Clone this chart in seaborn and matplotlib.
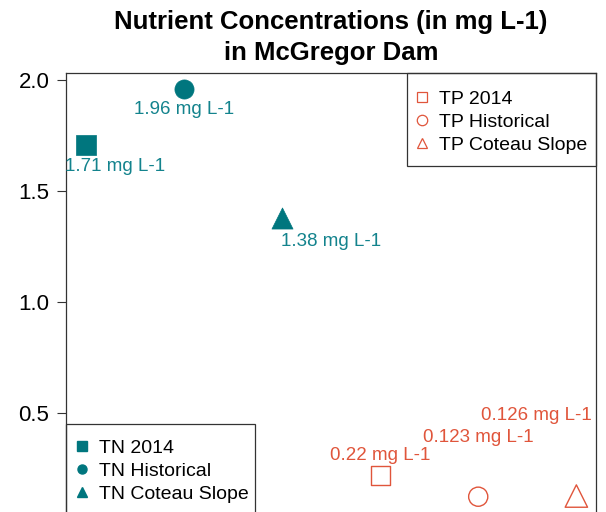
import matplotlib
matplotlib.use("Agg")
import matplotlib.pyplot as plt
import seaborn as sns
import pandas as pd
from matplotlib.lines import Line2D
from matplotlib.patches import Rectangle

# ---- data ----
tn_labels = ["TN 2014", "TN Historical", "TN Coteau Slope"]
tn_values = [1.71, 1.96, 1.38]
tp_labels = ["TP 2014", "TP Historical", "TP Coteau Slope"]
tp_values = [0.22, 0.123, 0.126]
y_ticks = [0.5, 1.0, 1.5, 2.0]

# ---- styles ----
TEAL = "#00767E"
TEAL_TXT = "#13838D"
RED = "#E0553B"
markers = ["s", "o", "^"]
tn_label_offsets = [(29, -22), (0, -20), (49, -24)]   # pixels
tp_label_offsets = [(0, 20), (0, 59), (-40, 81)]      # pixels

sns.set_theme(style="ticks")
plt.rcParams["font.family"] = ["Liberation Sans", "DejaVu Sans"]

df = pd.DataFrame({
    "x": list(range(1, 7)),
    "value": tn_values + tp_values,
    "name": tn_labels + tp_labels,
    "group": ["TN"] * 3 + ["TP"] * 3,
    "marker": markers * 2,
})

W, H = 606, 512
AX_L, AX_R, AX_T, AX_B = 66, 596, 73, 513
fig = plt.figure(figsize=(W / 100, H / 100), dpi=100)
ax = fig.add_axes([AX_L / W, (H - AX_B) / H, (AX_R - AX_L) / W, (AX_B - AX_T) / H])


def axx(px):
    return (px - AX_L) / (AX_R - AX_L)


def axy(py):
    return (AX_B - py) / (AX_B - AX_T)


for _, row in df.iterrows():
    sub = df[df["name"] == row["name"]]
    if row["group"] == "TN":
        sns.scatterplot(data=sub, x="x", y="value", marker=row["marker"],
                        color=TEAL, edgecolor=TEAL, s=190 if row["marker"] != "^" else 230,
                        linewidth=0.5, ax=ax, legend=False, zorder=3)
    else:
        sns.scatterplot(data=sub, x="x", y="value", marker=row["marker"],
                        facecolor="none", edgecolor=RED, s=190 if row["marker"] != "^" else 260,
                        linewidth=1.0, ax=ax, legend=False, zorder=3)

for i, (v, off) in enumerate(zip(tn_values, tn_label_offsets)):
    ax.annotate(f"{v} mg L-1", xy=(i + 1, v), xytext=off, textcoords="offset pixels",
                ha="center", va="center", color=TEAL_TXT, fontsize=13.5)
for i, (v, off) in enumerate(zip(tp_values, tp_label_offsets)):
    ax.annotate(f"{v} mg L-1", xy=(i + 4, v), xytext=off, textcoords="offset pixels",
                ha="center", va="center", color=RED, fontsize=13.5)

vals = tn_values + tp_values
lo, hi = min(vals), max(vals)
pad = (hi - lo) * 0.04
ax.set_ylim(lo - pad, hi + pad)
ax.set_xlim(0.8, 6.2)
ax.set_yticks(y_ticks)
ax.set_yticklabels([f"{t:.1f}" for t in y_ticks], fontsize=16, color="black")
ax.set_xticks([])
ax.set_xlabel("")
ax.set_ylabel("")
ax.tick_params(axis="y", length=6.5, width=0.8, color="#333333", pad=5.5)
for s in ax.spines.values():
    s.set_visible(True)
    s.set_color("#333333")
    s.set_linewidth(0.9)

fig.suptitle("Nutrient Concentrations (in mg L-1)\nin McGregor Dam",
             fontsize=18.5, fontweight="bold", y=1 - 10 / H, va="top",
             x=331 / W, linespacing=1.36, color="black")

tn_handles = [Line2D([], [], marker=m, linestyle="none", color=TEAL, markersize=6.5)
              for m in markers]
tp_handles = [Line2D([], [], marker=m, linestyle="none", markerfacecolor="none",
                     markeredgecolor=RED, markersize=7.5, markeredgewidth=0.9)
              for m in markers]

common = dict(fontsize=14, frameon=False, handlelength=0.6, handletextpad=0.6,
              borderpad=0.0, labelspacing=0.28, borderaxespad=0.0, loc="center left")

leg_tn = ax.legend(tn_handles, tn_labels, bbox_to_anchor=(axx(76), axy(471)), **common)
for t in leg_tn.get_texts():
    t.set_color("black")
ax.add_artist(leg_tn)
ax.add_patch(Rectangle((0.0, axy(540)), axx(255), axy(424) - axy(540),
                       transform=ax.transAxes, fill=False, edgecolor="#333333",
                       linewidth=0.9, clip_on=False, zorder=4))

leg_tp = ax.legend(tp_handles, tp_labels, bbox_to_anchor=(axx(416), axy(122)), **common)
for t in leg_tp.get_texts():
    t.set_color("black")
ax.add_patch(Rectangle((axx(407), axy(166)), 1 - axx(407), 1 - axy(166),
                       transform=ax.transAxes, fill=False, edgecolor="#333333",
                       linewidth=0.9, clip_on=False, zorder=4))

fig.savefig("out.png", dpi=100)
